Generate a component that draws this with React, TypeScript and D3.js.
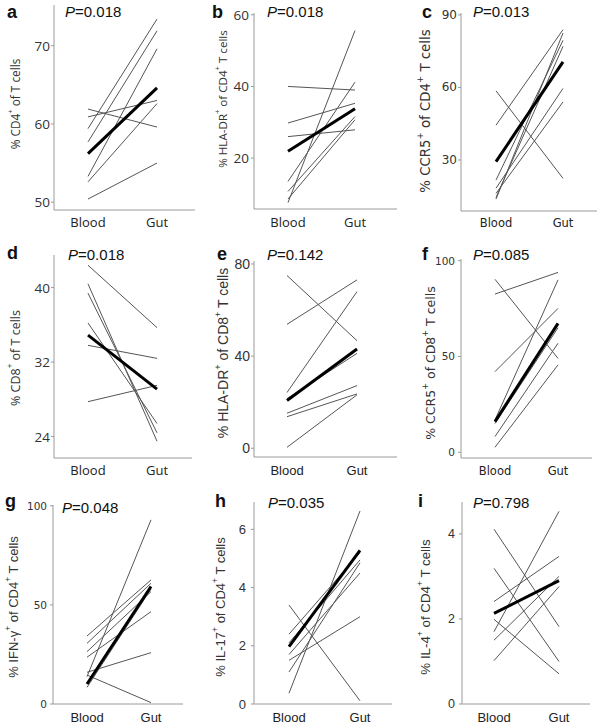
import React from 'react';
import * as d3 from 'd3';

const categories = ['Blood', 'Gut'];
const panelLetters = ['a', 'b', 'c', 'd', 'e', 'f', 'g', 'h', 'i'];
const pValues = ['0.018', '0.018', '0.013', '0.018', '0.142', '0.085', '0.048', '0.035', '0.798'];

// a: % CD4+ of T cells
const aBlood = [61.9, 60.9, 59.4, 57.7, 53.3, 52.6, 50.4];
const aGut = [59.6, 63.0, 73.4, 71.9, 69.6, 62.6, 55.0];
const aMean = [56.2, 64.6];
const aTicks = [50, 60, 70];
// b: % HLA-DR+ of CD4+ T cells
const bBlood = [40, 29.8, 26.0, 7.6, 13.5, 10.7, 8.6];
const bGut = [39.0, 35.3, 27.9, 55.6, 41.2, 31.6, 30.7];
const bMean = [21.9, 33.8];
const bTicks = [20, 40, 60];
// c: % CCR5+ of CD4+ T cells
const cBlood = [58.6, 44.4, 21.7, 13.8, 14.5, 18.3, 16.2];
const cGut = [22.4, 83.9, 79.5, 82.5, 77.0, 59.6, 54.0];
const cMean = [29.3, 70.6];
const cTicks = [30, 60, 90];
// d: % CD8+ of T cells
const dBlood = [42.4, 40.4, 39.4, 36.2, 33.8, 27.75];
const dGut = [35.7, 23.5, 24.4, 25.4, 32.4, 29.5];
const dMean = [34.9, 29.1];
const dTicks = [24, 32, 40];
// e: % HLA-DR+ of CD8+ T cells
const eBlood = [75, 53.8, 24.2, 21.5, 15.2, 13.7, 0.4];
const eGut = [46.7, 73.1, 68.0, 41.2, 27.2, 23.6, 23.2];
const eMean = [20.7, 43.1];
const eTicks = [0, 40, 80];
// f: % CCR5+ of CD8+ T cells
const fBlood = [82.6, 90.3, 42.1, 16.9, 8.2, 2.6, 15];
const fGut = [93.9, 49.0, 75.1, 90.0, 56.9, 45.6, 65];
const fMean = [16, 67.3];
const fTicks = [0, 50, 100];
// g: % IFN-γ+ of CD4+ T cells
const gBlood = [13.8, 14.6, 16, 34.3, 30.6, 26.4, 23.6, 8.4];
const gGut = [92.9, 0.7, 25.9, 62.6, 60.9, 56.7, 46.6, 58];
const gMean = [10.1, 59.3];
const gTicks = [0, 50, 100];
// h: % IL-17+ of CD4+ T cells
const hBlood = [3.4, 0.37, 2.4, 2.1, 1.5, 1.1, 1.7];
const hGut = [0.11, 6.63, 5.2, 4.95, 3.0, 4.85, 4.5];
const hMean = [1.97, 5.28];
const hTicks = [0, 2, 4, 6];
// i: % IL-4+ of CD4+ T cells
const iBlood = [4.11, 3.19, 2.41, 1.99, 1.7, 1.5, 1.02];
const iGut = [1.82, 1.0, 3.47, 0.71, 4.53, 3.0, 2.76];
const iMean = [2.13, 2.9];
const iTicks = [0, 2, 4];

type Seg = [string, boolean];
const aTitle: Seg[] = [['% CD4', false], ['+', true], [' of T cells', false]];
const bTitle: Seg[] = [['% HLA-DR', false], ['+', true], [' of CD4', false], ['+', true], [' T cells', false]];
const cTitle: Seg[] = [['% CCR5', false], ['+', true], [' of CD4', false], ['+', true], [' T cells', false]];
const dTitle: Seg[] = [['% CD8', false], ['+', true], [' of T cells', false]];
const eTitle: Seg[] = [['% HLA-DR', false], ['+', true], [' of CD8', false], ['+', true], [' T cells', false]];
const fTitle: Seg[] = [['% CCR5', false], ['+', true], [' of CD8', false], ['+', true], [' T cells', false]];
const gTitle: Seg[] = [['% IFN-', false], ['γ', false], ['+', true], [' of CD4', false], ['+', true], [' T cells', false]];
const hTitle: Seg[] = [['% IL-17', false], ['+', true], [' of CD4', false], ['+', true], [' T cells', false]];
const iTitle: Seg[] = [['% IL-4', false], ['+', true], [' of CD4', false], ['+', true], [' T cells', false]];

const OPEN = '"Open Sans", "Liberation Sans", Arial, sans-serif';
const DEJA = '"DejaVu Sans", Verdana, sans-serif';
const LIB = '"Liberation Sans", Arial, sans-serif';

const layouts = [
  { axisX: 54, top: 5, bottom: 210, domain: [49, 75.2], xEnd: 195, bloodX: 88, gutX: 157, labelY: 227, font: OPEN, tickFont: OPEN, tickSize: 13.5, tickRight: 50, titleFont: OPEN, titleSize: 11.8, titleX: 15, titleY: 104, letterX: 7, letterY: 18, pX: 65, pY: 17, catSize: 13 },
  { axisX: 254, top: 13, bottom: 209, domain: [5.8, 60.5], xEnd: 397, bloodX: 288, gutX: 355, labelY: 227, font: OPEN, tickFont: OPEN, tickSize: 13.5, tickRight: 249, titleFont: OPEN, titleSize: 11.6, titleX: 222, titleY: 99, letterX: 212, letterY: 18, pX: 267, pY: 17, catSize: 13 },
  { axisX: 461, top: 13, bottom: 211, domain: [8.9, 90.8], xEnd: 597, bloodX: 496, gutX: 563, labelY: 227, font: DEJA, tickFont: DEJA, tickSize: 12, tickRight: 457, titleFont: DEJA, titleSize: 13.3, titleX: 425, titleY: 111, letterX: 422, letterY: 18, pX: 473, pY: 17, catSize: 11.5 },
  { axisX: 54, top: 255, bottom: 458, domain: [21.7, 43.5], xEnd: 192, bloodX: 88, gutX: 157, labelY: 475, font: OPEN, tickFont: OPEN, tickSize: 13.5, tickRight: 50, titleFont: OPEN, titleSize: 12.5, titleX: 15, titleY: 358, letterX: 7, letterY: 259, pX: 68, pY: 260, catSize: 13 },
  { axisX: 254, top: 261, bottom: 457, domain: [-3.8, 81.3], xEnd: 397, bloodX: 287, gutX: 357, labelY: 475, font: LIB, tickFont: LIB, tickSize: 14, tickRight: 250, titleFont: LIB, titleSize: 14, titleX: 223, titleY: 353, letterX: 217, letterY: 260, pX: 267, pY: 260, catSize: 13 },
  { axisX: 461, top: 259, bottom: 458, domain: [-3, 100.9], xEnd: 592, bloodX: 495, gutX: 558, labelY: 475, font: DEJA, tickFont: DEJA, tickSize: 10.5, tickRight: 455, titleFont: DEJA, titleSize: 12.5, titleX: 430, titleY: 363, letterX: 422, letterY: 260, pX: 473, pY: 260, catSize: 11.5 },
  { axisX: 53, top: 505, bottom: 704, domain: [0, 100.4], xEnd: 183, bloodX: 87, gutX: 151, labelY: 722, font: LIB, tickFont: DEJA, tickSize: 10.5, tickRight: 47, titleFont: LIB, titleSize: 13, titleX: 13, titleY: 607, letterX: 5, letterY: 507, pX: 62, pY: 513, catSize: 13 },
  { axisX: 254, top: 502, bottom: 704, domain: [0, 6.94], xEnd: 392, bloodX: 289, gutX: 360, labelY: 722, font: LIB, tickFont: LIB, tickSize: 13, tickRight: 246, titleFont: LIB, titleSize: 13, titleX: 220, titleY: 607, letterX: 215, letterY: 507, pX: 268, pY: 508, catSize: 13 },
  { axisX: 462, top: 502, bottom: 704, domain: [0, 4.75], xEnd: 590, bloodX: 494, gutX: 559, labelY: 722, font: LIB, tickFont: LIB, tickSize: 12.5, tickRight: 455, titleFont: LIB, titleSize: 13.3, titleX: 425, titleY: 607, letterX: 418, letterY: 507, pX: 473, pY: 508, catSize: 13 },
];

const bloods = [aBlood, bBlood, cBlood, dBlood, eBlood, fBlood, gBlood, hBlood, iBlood];
const guts = [aGut, bGut, cGut, dGut, eGut, fGut, gGut, hGut, iGut];
const means = [aMean, bMean, cMean, dMean, eMean, fMean, gMean, hMean, iMean];
const tickSets = [aTicks, bTicks, cTicks, dTicks, eTicks, fTicks, gTicks, hTicks, iTicks];
const titles = [aTitle, bTitle, cTitle, dTitle, eTitle, fTitle, gTitle, hTitle, iTitle];

function Panel({ idx }: { idx: number }) {
  const L = layouts[idx];
  const y = d3.scaleLinear().domain(L.domain).range([L.bottom, L.top]);
  const x = d3.scalePoint<string>().domain(categories).range([L.bloodX, L.gutX]);
  const line = d3
    .line<number>()
    .x((_, i) => x(categories[i]) as number)
    .y((d) => y(d));
  const blood = bloods[idx];
  const gut = guts[idx];
  return (
    <g>
      <line x1={L.axisX} x2={L.axisX} y1={L.top} y2={L.bottom} stroke="#9a9a9a" strokeWidth={1} />
      <line x1={L.axisX} x2={L.xEnd} y1={L.bottom} y2={L.bottom} stroke="#9a9a9a" strokeWidth={1} />
      {tickSets[idx].map((t) => (
        <g key={t}>
          <line x1={L.axisX - 3} x2={L.axisX} y1={y(t)} y2={y(t)} stroke="#9a9a9a" strokeWidth={1} />
          <text
            x={L.tickRight}
            y={y(t)}
            textAnchor="end"
            dominantBaseline="central"
            fontFamily={L.tickFont}
            fontSize={L.tickSize}
            fill="#333"
          >
            {t}
          </text>
        </g>
      ))}
      {blood.map((b, i) => (
        <path key={i} d={line([b, gut[i]]) || ''} fill="none" stroke="#555" strokeWidth={1} />
      ))}
      <path d={line(means[idx]) || ''} fill="none" stroke="#000" strokeWidth={3} />
      {categories.map((c) => (
        <text
          key={c}
          x={x(c)}
          y={L.labelY}
          textAnchor="middle"
          fontFamily={L.font}
          fontSize={L.catSize}
          fill="#222"
        >
          {c}
        </text>
      ))}
      <text
        transform={`translate(${L.titleX},${L.titleY}) rotate(-90)`}
        textAnchor="middle"
        dominantBaseline="central"
        fontFamily={L.titleFont}
        fontSize={L.titleSize}
        fill="#333"
      >
        {titles[idx].map(([s, sup], k) =>
          sup ? (
            <tspan key={k} baselineShift="super" fontSize="65%">
              {s}
            </tspan>
          ) : (
            <tspan key={k}>{s}</tspan>
          )
        )}
      </text>
      <text x={L.letterX} y={L.letterY} fontFamily={LIB} fontWeight="bold" fontSize={18} fill="#111">
        {panelLetters[idx]}
      </text>
      <text x={L.pX} y={L.pY} fontFamily={LIB} fontSize={15} fill="#111">
        <tspan fontStyle="italic">P</tspan>
        <tspan>{'=' + pValues[idx]}</tspan>
      </text>
    </g>
  );
}

export default function App() {
  return (
    <svg
      width={604}
      height={727}
      style={{ position: 'absolute', left: 0, top: 0, background: '#fff' }}
    >
      <rect x={0} y={0} width={604} height={727} fill="#fff" />
      {layouts.map((_, i) => (
        <Panel key={i} idx={i} />
      ))}
    </svg>
  );
}
